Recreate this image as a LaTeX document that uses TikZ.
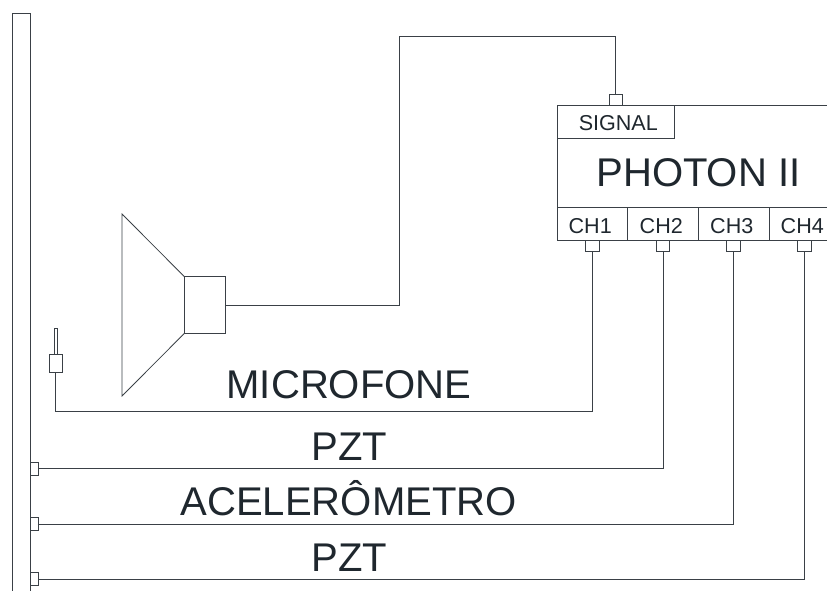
\documentclass[tikz,border=0pt]{standalone}
\usepackage{fontspec}
\setmainfont{Liberation Sans}
\usepackage{tikz}
\usetikzlibrary{arrows,shapes,positioning}
\definecolor{inkline}{HTML}{3A4046}
\definecolor{inktext}{HTML}{1F272E}
\tikzset{
  box/.style={draw=inkline,line width=0.7pt,inner sep=0pt,outer sep=0pt},
  port/.style={box,minimum width=4.1mm,minimum height=3.3mm},
  chan/.style={box,minimum width=21.2mm,minimum height=9.75mm},
  wire/.style={draw=inkline,line width=0.7pt},
  smalllabel/.style={text=inktext,inner sep=0pt,anchor=base,font=\fontsize{18.4}{20}\selectfont},
  biglabel/.style={text=inktext,inner sep=0pt,anchor=base,font=\fontsize{34.2}{38}\selectfont}
}

\begin{document}
\begin{tikzpicture}[x=0.3mm,y=-0.3mm]
    \path[use as bounding box,clip] (0,0) rectangle (827,590);
 %the plate
    \node[box,minimum width=5.4mm,minimum height=180mm,anchor=north west] (plate) at (12.6,13.5) {};
    \node[port,minimum width=2.2mm,minimum height=3.9mm] (pzta) at (34.3,468.7) {};
    \node[port,minimum width=2.2mm,minimum height=3.9mm] (acel) at (34.3,524) {};
    \node[port,minimum width=2.2mm,minimum height=3.9mm] (pztb) at (34.3,579.3) {};

    %the microphone
    \node[box,minimum width=1.05mm,minimum height=7.8mm] (microd) at (55.7,341) {};
    \node[box,minimum width=3.9mm,minimum height=5.4mm] (micbody) at (55.7,363) {};
    \coordinate (micturn) at (592.4,411.3);

    %the loudspeaker
    \node[box,minimum width=12.2mm,minimum height=17.1mm] (coil) at (204.6,305) {};
    \coordinate (conetop) at (122,214);
    \coordinate (conebot) at (122,396);
    \draw[wire] (coil.north west) -- (conetop) -- (conebot) -- (coil.south west);
    \coordinate (turn) at (399.4,36);

    %the analyser
    \node[box,minimum width=100mm,minimum height=40.35mm,anchor=north west] (photon) at (557,105.5) {};
    \node[box,minimum width=35.1mm,minimum height=9.75mm,anchor=north west] (signal) at (557,105.5) {};
    \node[smalllabel] (signalname) at (618.3,130) {SIGNAL};
    \node[biglabel] (photonname) at (698.4,186.7) {PHOTON II};
    \node[chan] (ch1) at (592.4,223.8) {};
    \node[chan] (ch2) at (663,223.8) {};
    \node[chan] (ch3) at (733.7,223.8) {};
    \node[chan] (ch4) at (804.4,223.8) {};
    \node[smalllabel] (ch1name) at (590.2,233.3) {CH1};
    \node[smalllabel] (ch2name) at (661.3,233.3) {CH2};
    \node[smalllabel] (ch3name) at (731.8,233.3) {CH3};
    \node[smalllabel] (ch4name) at (802.3,233.3) {CH4};

    %the connectors
    \node[port,anchor=south] (portsig) at (615.8,105.5) {};
    \node[port,anchor=north] (port1) at (592.4,240) {};
    \node[port,anchor=north] (port2) at (663,240) {};
    \node[port,anchor=north] (port3) at (733.7,240) {};
    \node[port,anchor=north] (port4) at (804.4,240) {};

    %the wires
    \draw[wire] (coil.east) -| (turn) -| (portsig.north);
    \draw[wire] (micbody.south) |- (micturn) -- (port1.south);
    \draw[wire] (pzta.east) -| (port2.south);
    \draw[wire] (acel.east) -| (port3.south);
    \draw[wire] (pztb.east) -| (port4.south);

    %names of the sensors
    \node[biglabel] (micname) at (349,398.3) {MICROFONE};
    \node[biglabel] (pztaname) at (349.5,460) {PZT};
    \node[biglabel] (acelname) at (348.7,515.7) {ACELERÔMETRO};
    \node[biglabel] (pztbname) at (349.5,571.7) {PZT};
\end{tikzpicture}
\end{document}
